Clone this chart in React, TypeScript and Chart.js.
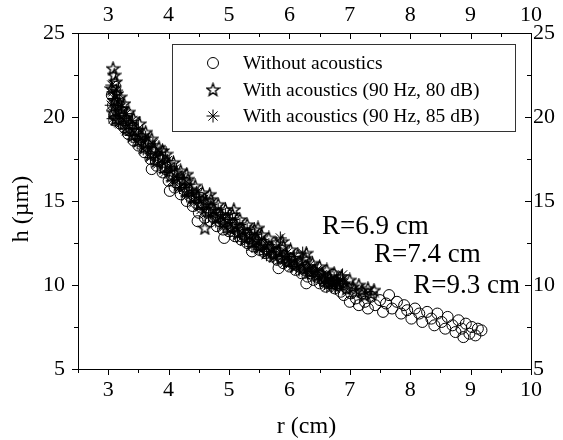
import React, { useEffect, useRef } from 'react';
import { Chart, registerables } from 'chart.js';

Chart.register(...registerables);

// ---------- data (r in cm, h in µm) ----------
const withoutAcoustics: [number, number][] = [
  [3.06, 21.3], [3.08, 20.7], [3.1, 20.1], [3.12, 21.8], [3.14, 20.4], [3.1, 19.8], [3.16, 21.0],
  [3.2, 19.6], [3.22, 20.3], [3.26, 19.4], [3.3, 19.8], [3.33, 19.0], [3.38, 19.3], [3.42, 18.6],
  [3.46, 19.0], [3.5, 18.3], [3.55, 18.7], [3.6, 17.9], [3.64, 18.3], [3.7, 17.5], [3.75, 17.9],
  [3.8, 17.1], [3.85, 17.4], [3.9, 16.7], [3.95, 16.9], [4.0, 16.2], [4.05, 16.5], [4.1, 15.8],
  [4.15, 16.1], [4.2, 15.4], [4.25, 15.7], [4.3, 15.0], [4.35, 15.3], [4.4, 14.7], [4.45, 14.9],
  [4.5, 14.3], [4.55, 14.6], [4.6, 14.0], [4.65, 14.3], [4.7, 13.8], [4.75, 14.0], [4.8, 13.5],
  [4.85, 13.8], [4.9, 13.3], [4.95, 13.6], [5.0, 13.2], [5.05, 13.4], [5.1, 12.9], [5.15, 13.2],
  [5.2, 12.7], [5.25, 13.0], [5.3, 12.5], [5.35, 12.8], [5.4, 12.3], [5.45, 12.6], [5.5, 12.1],
  [5.55, 12.4], [5.6, 11.9], [5.65, 12.1], [5.7, 11.7], [5.75, 11.9], [5.8, 11.5], [5.85, 11.7],
  [5.9, 11.3], [5.95, 11.5], [6.0, 11.1], [6.05, 11.3], [6.1, 10.9], [6.15, 11.1], [6.2, 10.7],
  [6.25, 10.9], [6.3, 10.5], [6.35, 10.7], [6.4, 10.3], [6.45, 10.5], [6.5, 10.1], [6.55, 10.3],
  [6.6, 9.9], [6.65, 10.1], [6.72, 10.6], [6.75, 9.8], [6.8, 10.0], [6.85, 9.6], [6.9, 9.4],
  [6.95, 9.8], [7.0, 9.0], [7.02, 9.5], [7.1, 9.2], [7.15, 8.8], [7.2, 9.5], [7.25, 9.0],
  [7.3, 8.6], [7.35, 9.3], [7.42, 8.8], [7.5, 9.1], [7.55, 8.4], [7.6, 8.9], [7.65, 9.4],
  [7.7, 8.6], [7.78, 9.0], [7.85, 8.3], [7.9, 8.8], [7.95, 8.5], [8.02, 8.0], [8.08, 8.6],
  [8.15, 8.3], [8.2, 7.8], [8.28, 8.4], [8.35, 8.0], [8.4, 7.6], [8.45, 8.3], [8.52, 7.8],
  [8.58, 7.4], [8.62, 8.1], [8.7, 7.6], [8.75, 7.2], [8.8, 7.9], [8.85, 7.4], [8.88, 6.9],
  [8.92, 7.7], [8.98, 7.1], [9.02, 7.5], [9.08, 7.0], [9.12, 7.4], [9.18, 7.3],
  [4.02, 15.6], [4.48, 13.8], [4.92, 12.8], [5.38, 12.0], [5.82, 11.0], [6.28, 10.1], [3.72, 16.9],
];

const with80dB: [number, number][] = [
  [3.08, 22.9], [3.1, 22.5], [3.12, 22.1], [3.06, 21.7], [3.14, 21.4], [3.1, 21.0], [3.16, 20.7],
  [3.08, 20.3], [3.12, 19.9], [3.2, 21.2], [3.22, 20.5], [3.18, 19.8], [3.26, 20.8], [3.28, 20.0],
  [3.3, 19.3], [3.34, 20.3], [3.36, 19.6], [3.4, 18.9], [3.42, 19.9], [3.46, 19.2], [3.5, 18.6],
  [3.52, 19.6], [3.56, 18.9], [3.6, 18.2], [3.62, 19.1], [3.66, 18.5], [3.7, 17.8], [3.72, 18.7],
  [3.76, 18.1], [3.8, 17.4], [3.84, 18.2], [3.88, 17.6], [3.92, 17.0], [3.96, 17.8], [4.0, 17.2],
  [4.04, 16.5], [4.08, 17.3], [4.12, 16.7], [4.16, 16.0], [4.2, 16.8], [4.24, 16.2], [4.28, 15.6],
  [4.32, 16.3], [4.36, 15.7], [4.4, 15.2], [4.44, 15.9], [4.48, 15.3], [4.52, 14.8], [4.56, 15.5],
  [4.6, 13.4], [4.62, 14.9], [4.66, 14.4], [4.7, 15.1], [4.74, 14.5], [4.78, 14.0], [4.82, 14.8],
  [4.86, 14.2], [4.9, 13.7], [4.94, 14.5], [4.98, 13.9], [5.02, 13.4], [5.06, 14.2], [5.1, 13.6],
  [5.14, 13.1], [5.18, 13.9], [5.22, 13.3], [5.26, 12.8], [5.3, 13.6], [5.34, 13.0], [5.38, 12.5],
  [5.42, 13.3], [5.46, 12.7], [5.5, 12.3], [5.54, 13.0], [5.58, 12.5], [5.62, 12.0], [5.66, 12.8],
  [5.7, 12.2], [5.74, 11.8], [5.78, 12.5], [5.82, 12.0], [5.86, 11.6], [5.9, 12.3], [5.94, 11.8],
  [5.98, 11.4], [6.02, 12.1], [6.06, 11.6], [6.1, 11.2], [6.14, 11.8], [6.18, 11.4], [6.22, 11.0],
  [6.26, 11.6], [6.3, 11.1], [6.34, 10.8], [6.38, 11.3], [6.42, 10.9], [6.46, 10.6], [6.5, 11.1],
  [6.54, 10.7], [6.58, 10.4], [6.62, 10.9], [6.66, 10.5], [6.7, 10.2], [6.74, 10.7], [6.78, 10.3],
  [6.82, 10.0], [6.86, 10.5], [6.9, 10.1], [6.95, 9.8], [7.0, 10.3], [7.05, 9.9], [7.1, 9.6],
  [7.15, 10.0], [7.2, 9.7], [7.25, 9.4], [7.3, 9.8], [7.35, 9.5], [7.4, 9.7],
  [3.9, 18.0], [4.3, 16.6], [4.68, 15.4], [5.08, 14.5], [5.48, 13.4], [5.88, 12.6], [6.28, 11.9],
];

const with85dB: [number, number][] = [
  [3.06, 21.9], [3.08, 21.5], [3.1, 21.1], [3.05, 20.7], [3.12, 20.3], [3.08, 19.9], [3.14, 21.6],
  [3.16, 20.9], [3.18, 20.1], [3.2, 19.6], [3.22, 20.6], [3.25, 19.9], [3.28, 19.3], [3.3, 20.2],
  [3.34, 19.5], [3.38, 18.9], [3.4, 19.8], [3.44, 19.1], [3.48, 18.5], [3.5, 19.3], [3.54, 18.7],
  [3.58, 18.1], [3.62, 18.8], [3.66, 18.2], [3.7, 17.6], [3.74, 18.4], [3.78, 17.8], [3.82, 17.2],
  [3.86, 17.9], [3.9, 17.3], [3.94, 16.7], [3.98, 17.4], [4.02, 16.8], [4.06, 16.2], [4.1, 16.9],
  [4.14, 16.3], [4.18, 15.8], [4.22, 16.4], [4.26, 15.8], [4.3, 15.3], [4.34, 16.0], [4.38, 15.4],
  [4.42, 14.9], [4.46, 15.5], [4.5, 15.0], [4.54, 14.5], [4.58, 15.1], [4.62, 14.6], [4.66, 14.1],
  [4.7, 14.8], [4.74, 14.3], [4.78, 13.8], [4.82, 14.5], [4.86, 14.0], [4.9, 13.5], [4.94, 14.2],
  [4.98, 13.7], [5.02, 13.2], [5.06, 13.9], [5.1, 13.4], [5.14, 12.9], [5.18, 13.6], [5.22, 13.1],
  [5.26, 12.6], [5.3, 13.3], [5.34, 12.8], [5.38, 12.3], [5.42, 13.0], [5.46, 12.5], [5.5, 12.1],
  [5.54, 12.7], [5.58, 12.2], [5.62, 11.8], [5.66, 12.4], [5.7, 12.0], [5.74, 11.6], [5.78, 12.2],
  [5.85, 12.8], [5.88, 11.7], [5.92, 11.3], [5.96, 11.9], [6.0, 11.5], [6.04, 11.1], [6.08, 11.7],
  [6.12, 11.2], [6.16, 10.9], [6.22, 11.9], [6.26, 11.0], [6.3, 10.7], [6.34, 11.2], [6.38, 10.8],
  [6.42, 10.5], [6.46, 10.9], [6.5, 10.3], [6.54, 10.6], [6.58, 10.1], [6.6, 10.4], [6.62, 9.9],
  [6.64, 10.2], [6.66, 10.0], [6.68, 10.3], [6.7, 9.9], [6.72, 10.1], [6.74, 10.4], [6.76, 9.8],
  [6.78, 10.2], [6.8, 10.0], [6.84, 10.3], [6.88, 10.6], [6.9, 10.1],
];

const seriesLabels = [
  'Without acoustics',
  'With acoustics (90 Hz, 80 dB)',
  'With acoustics (90 Hz, 85 dB)',
];

// annotation texts anchored at data coordinates (left edge, vertical middle)
const annotationTexts = ['R=6.9 cm', 'R=7.4 cm', 'R=9.3 cm'];
const annotationR = [6.54, 7.4, 8.05];
const annotationH = [13.45, 11.8, 9.95];

const xMin = 2.5, xMax = 10, xStep = 0.5;
const yMin = 5, yMax = 25, yStep = 2.5;

// ---------- styling ----------
const FONT = '"Liberation Serif", "Times New Roman", serif';
const W = 563, H = 440;

function makeStar(size: number): HTMLCanvasElement {
  const c = document.createElement('canvas');
  c.width = size; c.height = size;
  const ctx = c.getContext('2d')!;
  const cx = size / 2, cy = size / 2 + 0.6;
  const R = size / 2 - 1, r = R * 0.42;
  ctx.beginPath();
  for (let i = 0; i < 10; i++) {
    const a = -Math.PI / 2 + (i * Math.PI) / 5;
    const rad = i % 2 === 0 ? R : r;
    ctx.lineTo(cx + rad * Math.cos(a), cy + rad * Math.sin(a));
  }
  ctx.closePath();
  ctx.strokeStyle = '#000';
  ctx.lineWidth = 1.4;
  ctx.lineJoin = 'miter';
  ctx.stroke();
  return c;
}

const isInt = (v: number) => Math.abs(v - Math.round(v)) < 1e-6;
const isMult5 = (v: number) => Math.abs(v / 5 - Math.round(v / 5)) < 1e-6;

export default function App() {
  const ref = useRef<HTMLCanvasElement | null>(null);

  useEffect(() => {
    const canvas = ref.current!;
    const star = makeStar(15);

    const tickPlugin = {
      id: 'customTicks',
      afterDraw(chart: any) {
        const ctx = chart.ctx as CanvasRenderingContext2D;
        const { left, right, top, bottom } = chart.chartArea;
        const xs = chart.scales.x, x2 = chart.scales.x2, ys = chart.scales.y, y2 = chart.scales.y2;
        ctx.save();
        ctx.strokeStyle = '#000';
        ctx.lineWidth = 1;
        const line = (a: number, b: number, c: number, d: number) => {
          ctx.beginPath(); ctx.moveTo(a, b); ctx.lineTo(c, d); ctx.stroke();
        };
        xs.ticks.forEach((t: any) => {
          const p = Math.round(xs.getPixelForValue(t.value)) + 0.5;
          const L = isInt(t.value) ? 6 : 4;
          line(p, bottom, p, bottom + L);
        });
        x2.ticks.forEach((t: any) => {
          const p = Math.round(x2.getPixelForValue(t.value)) + 0.5;
          const L = isInt(t.value) ? 6 : 4;
          line(p, top, p, top + L);
        });
        ys.ticks.forEach((t: any) => {
          const p = Math.round(ys.getPixelForValue(t.value)) + 0.5;
          const L = isMult5(t.value) ? 6 : 4;
          line(left - L, p, left, p);
        });
        y2.ticks.forEach((t: any) => {
          const p = Math.round(y2.getPixelForValue(t.value)) + 0.5;
          const L = isMult5(t.value) ? 6 : 4;
          line(right - L, p, right, p);
        });
        ctx.restore();
      },
    };

    const decoPlugin = {
      id: 'deco',
      afterDraw(chart: any) {
        const ctx = chart.ctx as CanvasRenderingContext2D;
        const xs = chart.scales.x, ys = chart.scales.y;
        const area = chart.chartArea;
        ctx.save();
        ctx.fillStyle = '#000';
        // axis titles
        ctx.font = `24px ${FONT}`;
        ctx.textAlign = 'center';
        ctx.textBaseline = 'middle';
        ctx.fillText('r (cm)', (area.left + area.right) / 2 + 2, 427);
        ctx.save();
        ctx.translate(22, (area.top + area.bottom) / 2 + 8);
        ctx.rotate(-Math.PI / 2);
        ctx.fillText('h (\u00B5m)', 0, 0);
        ctx.restore();

        // annotations
        ctx.font = `27px ${FONT}`;
        ctx.textAlign = 'left';
        annotationTexts.forEach((t, i) => {
          ctx.fillText(t, xs.getPixelForValue(annotationR[i]), ys.getPixelForValue(annotationH[i]));
        });

        // legend
        const bx = 172, by = 44, bw = 343, bh = 87;
        ctx.strokeStyle = '#333';
        ctx.lineWidth = 1;
        ctx.strokeRect(bx + 0.5, by + 0.5, bw, bh);
        const rows = [63, 89.5, 116];
        const mx = 213, tx = 243;
        ctx.font = `19.5px ${FONT}`;
        ctx.textAlign = 'left';
        ctx.textBaseline = 'middle';
        rows.forEach((ry, i) => {
          ctx.strokeStyle = '#000';
          ctx.lineWidth = 1;
          if (i === 0) {
            ctx.beginPath(); ctx.arc(mx, ry, 5.5, 0, Math.PI * 2); ctx.stroke();
          } else if (i === 1) {
            ctx.drawImage(star, mx - star.width / 2, ry - star.height / 2);
          } else {
            const r = 6.5;
            ctx.beginPath();
            ctx.moveTo(mx, ry - r); ctx.lineTo(mx, ry + r);
            ctx.moveTo(mx - r, ry); ctx.lineTo(mx + r, ry);
            const d = r * Math.SQRT1_2;
            ctx.moveTo(mx - d, ry - d); ctx.lineTo(mx + d, ry + d);
            ctx.moveTo(mx - d, ry + d); ctx.lineTo(mx + d, ry - d);
            ctx.stroke();
          }
          ctx.fillText(seriesLabels[i], tx, ry + 1);
        });
        ctx.restore();
      },
    };

    const tickFont = { family: FONT, size: 22 };
    const common = {
      grid: { display: true, drawOnChartArea: false, drawTicks: false },
      border: { display: true, color: '#000', width: 1 },
    };
    const xLabel = (v: any) => (isInt(v) ? String(Math.round(v)) : '');
    const yLabel = (v: any) => (isMult5(v) ? String(Math.round(v)) : '');

    const chart = new Chart(canvas, {
      type: 'scatter',
      data: {
        datasets: [
          {
            label: seriesLabels[0],
            data: withoutAcoustics.map(([x, y]) => ({ x, y })),
            pointStyle: 'circle',
            pointRadius: 5.5,
            borderColor: '#000',
            borderWidth: 1,
            backgroundColor: 'rgba(0,0,0,0)',
          },
          {
            label: seriesLabels[1],
            data: with80dB.map(([x, y]) => ({ x, y })),
            pointStyle: star as any,
            pointRadius: 7,
            borderColor: '#000',
            borderWidth: 1,
            backgroundColor: 'rgba(0,0,0,0)',
          },
          {
            label: seriesLabels[2],
            data: with85dB.map(([x, y]) => ({ x, y })),
            pointStyle: 'star',
            pointRadius: 6.5,
            borderColor: '#000',
            borderWidth: 1,
            backgroundColor: 'rgba(0,0,0,0)',
          },
        ],
      },
      options: {
        responsive: false,
        animation: false,
        devicePixelRatio: 1,
        layout: { padding: 0 },
        plugins: { legend: { display: false }, tooltip: { enabled: false } },
        scales: {
          x: {
            type: 'linear', position: 'bottom', min: xMin, max: xMax,
            ...common,
            ticks: { stepSize: xStep, autoSkip: false, maxRotation: 0, padding: 8, color: '#000', font: tickFont, callback: xLabel },
            afterFit: (s: any) => { s.height = 71; },
          },
          x2: {
            type: 'linear', position: 'top', min: xMin, max: xMax,
            ...common,
            ticks: { stepSize: xStep, autoSkip: false, maxRotation: 0, padding: 5, color: '#000', font: tickFont, callback: xLabel },
            afterFit: (s: any) => { s.height = 33; },
          },
          y: {
            type: 'linear', position: 'left', min: yMin, max: yMax,
            ...common,
            ticks: { stepSize: yStep, autoSkip: false, padding: 13, color: '#000', font: tickFont, callback: yLabel },
            afterFit: (s: any) => { s.width = 78; },
          },
          y2: {
            type: 'linear', position: 'right', min: yMin, max: yMax,
            ...common,
            ticks: { stepSize: yStep, autoSkip: false, padding: 2, color: '#000', font: tickFont, callback: yLabel },
            afterFit: (s: any) => { s.width = 32; },
          },
        },
      } as any,
      plugins: [tickPlugin, decoPlugin],
    });

    return () => chart.destroy();
  }, []);

  return (
    <canvas
      ref={ref}
      width={W}
      height={H}
      style={{ position: 'fixed', left: 0, top: 0, background: '#fff' }}
    />
  );
}
